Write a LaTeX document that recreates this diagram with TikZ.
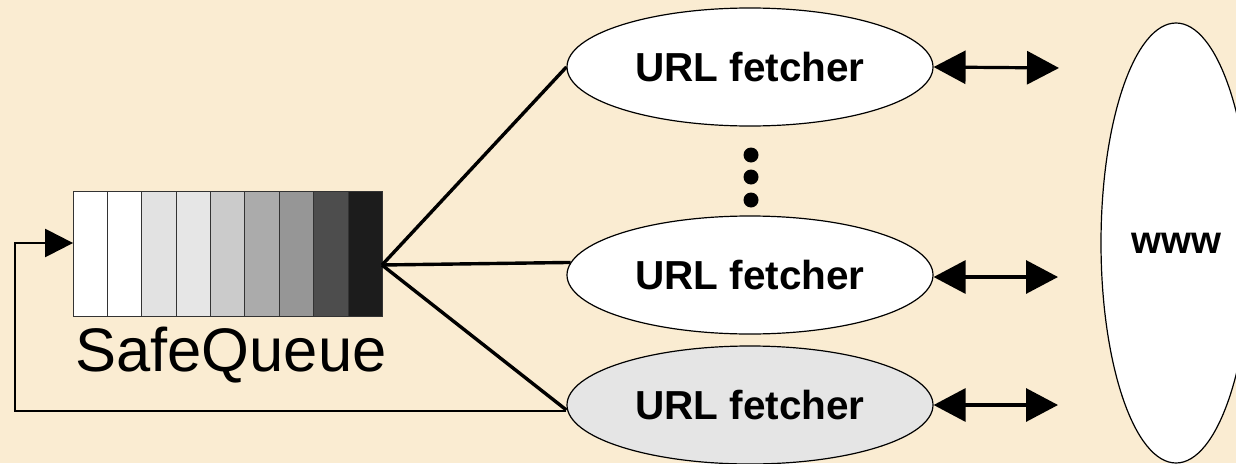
\documentclass[tikz,border=0pt]{standalone}
\usepackage{fontspec}
\setmainfont{Liberation Sans}
\usetikzlibrary{shapes.geometric,arrows.meta,calc}
\definecolor{parchment}{HTML}{FAECD2}
\definecolor{fetchgray}{HTML}{E5E5E5}
\tikzset{
  fetcher/.style={ellipse, draw=black, line width=1.2pt, fill=white,
    minimum width=366pt, minimum height=118pt, inner sep=0pt,
    font=\fontsize{40.5}{44}\selectfont\bfseries},
  fan/.style={line width=3.4pt},
  duplex/.style={line width=3.2pt, {Triangle[length=32pt,width=33pt]}-{Triangle[length=32pt,width=33pt]}},
  feedback/.style={line width=2.4pt, -{Triangle[length=28pt,width=28pt]}},
  dot/.style={circle, fill=black, minimum size=15pt, inner sep=0pt},
}
\begin{document}
\begin{tikzpicture}[x=1pt,y=-1pt]
  % page and background
  \fill[parchment] (0,0) rectangle (1236,463);
  \useasboundingbox (0,0) rectangle (1236,463);

  % the world wide web
  \node[ellipse, draw=black, line width=1.2pt, fill=white, minimum width=150pt,
        minimum height=440pt, inner sep=0pt,
        font=\fontsize{38.5}{42}\selectfont\bfseries] (www) at (1176,243) {www};

  % fetcher threads
  \node[fetcher] (f1) at (750,67) {URL fetcher};
  \node[fetcher] (f2) at (750,275) {URL fetcher};
  \node[fetcher, fill=fetchgray] (f3) at (750,405) {URL fetcher};

  % ellipsis between the fetchers
  \node[dot] (d1) at (751,155) {};
  \node[dot] (d2) at (751,177) {};
  \node[dot] (d3) at (751,200) {};

  % the queue: nine cells shading from empty to full
  \node[minimum width=309.4pt, minimum height=125pt, inner sep=0pt] (q) at (228,254.5) {};
  \foreach \i/\c in {0/FFFFFF,1/FFFFFF,2/E2E2E2,3/E6E6E6,4/CBCBCB,5/ABABAB,6/969696,7/4D4D4D,8/1C1C1C}{
    \definecolor{cellc}{HTML}{\c}
    \filldraw[fill=cellc, draw=black!80, line width=1pt]
      ($(q.north west)+(\i*34.378,0)$) rectangle ++(34.378,125);
  }
  \node[anchor=north, font=\fontsize{61.5}{66}\selectfont, inner sep=0pt] (ql) at (231,327) {SafeQueue};

  % dispatch from the queue head to the fetchers
  \coordinate (head) at (382,265);
  \draw[fan] (head) -- (f1.west);
  \draw[fan] (head) -- (f2.176);
  \draw[fan] (head) -- ([yshift=-5pt]f3.west);

  % requests to and from the web
  \coordinate (w1) at (1059,68);
  \coordinate (w2) at (1058,277);
  \coordinate (w3) at (1058,405);
  \draw[duplex] (f1.east) -- (w1);
  \draw[duplex] ([yshift=-2pt]f2.east) -- (w2);
  \draw[duplex] (f3.east) -- (w3);

  % new URLs fed back into the queue
  \coordinate (k1) at (15,411);
  \coordinate (k2) at (15,243);
  \draw[feedback] ([yshift=-6pt]f3.west) -- (k1) -- (k2) -- (q.west |- k2);
\end{tikzpicture}
\end{document}
